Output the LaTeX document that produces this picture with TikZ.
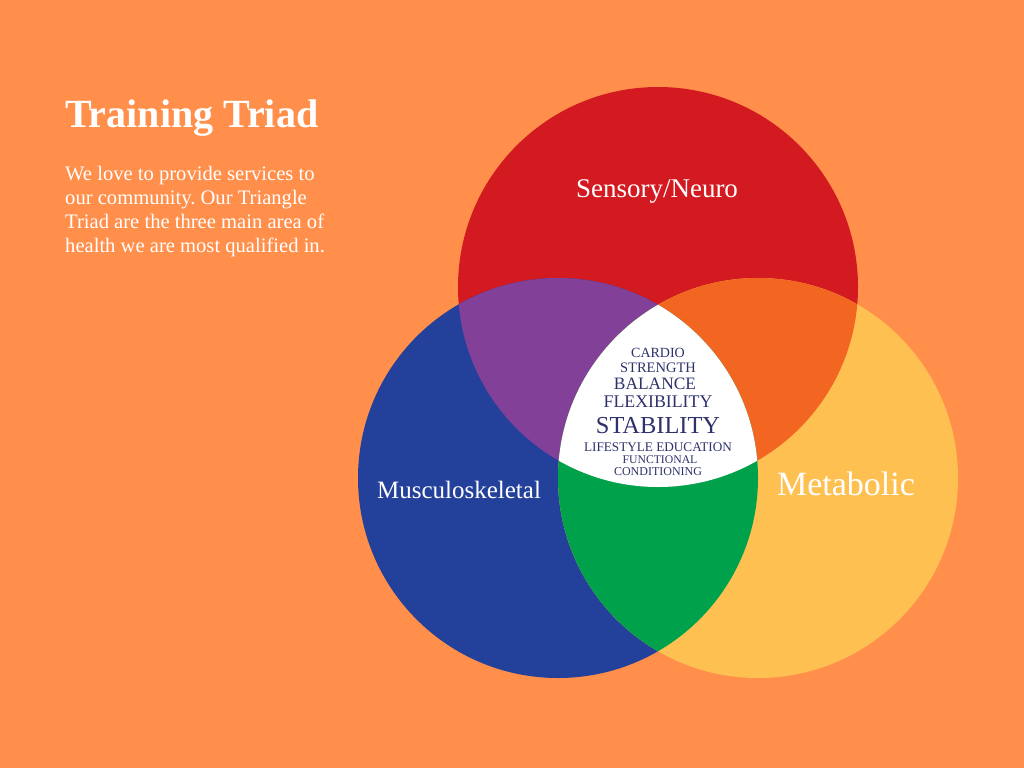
\documentclass[tikz,border=0pt]{standalone}
\usepackage{fontspec}
\setmainfont{Liberation Serif}
\usetikzlibrary{positioning}
\definecolor{cBack}{HTML}{FF8F4B}
\definecolor{cNeuro}{HTML}{D31A20}
\definecolor{cMusc}{HTML}{23409A}
\definecolor{cMeta}{HTML}{FFC052}
\definecolor{cNeMu}{HTML}{824098}
\definecolor{cNeMe}{HTML}{F26622}
\definecolor{cMuMe}{HTML}{00A14B}
\definecolor{cCore}{HTML}{2E316B}
\tikzset{
  bigtitle/.style  ={anchor=base west, text=white, inner sep=0pt,
                     font=\fontsize{40}{44}\selectfont\bfseries},
  blurb/.style     ={anchor=north west, text=white, inner sep=0pt,
                     align=left, font=\fontsize{20.6}{24}\selectfont},
  arealabel/.style ={anchor=base, text=white, inner sep=0pt},
  core/.style      ={anchor=base, text=cCore, inner sep=0pt},
}
\newcommand{\fsz}[1]{\fontsize{#1}{#1}\selectfont}
\frenchspacing

\begin{document}
\begin{tikzpicture}[x=1pt, y=-1pt]

  % ============================================================
  % PAGE BACKGROUND
  % ============================================================
  \fill[cBack] (0,0) rectangle (1024,768);
  \useasboundingbox (0,0) rectangle (1024,768);

  \coordinate (neuroC) at (658,287);
  \coordinate (muscC)  at (558,478);
  \coordinate (metaC)  at (758,478);

  % ============================================================
  % THREE CIRCLES + OVERLAPS
  % ============================================================
  \fill[cNeuro] (neuroC) circle[radius=200pt];
  \fill[cMusc]  (muscC)  circle[radius=200pt];
  \fill[cMeta]  (metaC)  circle[radius=200pt];

  \begin{scope}
    \clip (neuroC) circle[radius=200pt];
    \fill[cNeMu] (muscC) circle[radius=200pt];
  \end{scope}
  \begin{scope}
    \clip (neuroC) circle[radius=200pt];
    \fill[cNeMe] (metaC) circle[radius=200pt];
  \end{scope}
  \begin{scope}
    \clip (muscC) circle[radius=200pt];
    \fill[cMuMe] (metaC) circle[radius=200pt];
  \end{scope}
  \begin{scope}
    \clip (neuroC) circle[radius=200pt];
    \clip (muscC) circle[radius=200pt];
    \fill[white] (metaC) circle[radius=200pt];
  \end{scope}

  % ============================================================
  % LEFT TEXT
  % ============================================================
  \node[bigtitle] (title) at (65,127) {Training Triad};
  \node[blurb] (intro) at (65,166)
    {We love to provide services to\\
     our community. Our Triangle\\
     Triad are the three main area of\\
     health we are most qualified in.};

  % ============================================================
  % AREA LABELS
  % ============================================================
  \node[arealabel, font=\fsz{27}] (neuro) at (657,197) {Sensory/Neuro};
  \node[arealabel, font=\fsz{25}] (musc)  at (459,498) {Musculoskeletal};
  \node[arealabel, font=\fsz{34}] (meta)  at (846,495) {Metabolic};

  % ============================================================
  % CENTRE WORDS
  % ============================================================
  \node[core, font=\fsz{14}]   (cardio)   at (658,357) {CARDIO};
  \node[core, font=\fsz{14.5}] (strength) at (658,372) {STRENGTH};
  \node[core, font=\fsz{17.4}] (balance)  at (655,389) {BALANCE};
  \node[core, font=\fsz{17.8}] (flex)     at (658,407) {FLEXIBILITY};
  \node[core, font=\fsz{24.4}] (stab)     at (658,433) {STABILITY};
  \node[core, font=\fsz{13.2}] (life)     at (658,451) {LIFESTYLE EDUCATION};
  \node[core, font=\fsz{11.7}] (func)     at (660,463) {FUNCTIONAL};
  \node[core, font=\fsz{12}]   (cond)     at (658,475) {CONDITIONING};

\end{tikzpicture}
\end{document}
